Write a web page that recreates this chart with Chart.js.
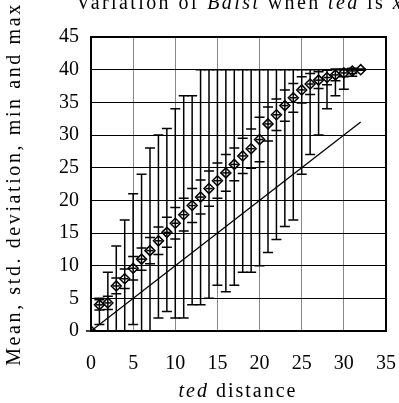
<!DOCTYPE html>
<html>
<head>
<meta charset="utf-8">
<script src="https://cdn.jsdelivr.net/npm/chart.js@4.4.0/dist/chart.umd.min.js"></script>
<style>
  html, body { margin: 0; padding: 0; background: #fff; }
  #wrap { width: 399px; height: 403px; }
</style>
</head>
<body>
<div id="wrap"><canvas id="bdistChart" width="399" height="403"></canvas></div>
<script>
// ted distance values (x)
const tedDist = [0, 1, 2, 3, 4, 5, 6, 7, 8, 9, 10, 11, 12, 13, 14, 15, 16,
                 17, 18, 19, 20, 21, 22, 23, 24, 25, 26, 27, 28, 29, 30, 31, 32];
// mean Bdist
const meanVals = [0, 4.0, 4.3, 6.9, 8.0, 9.6, 11.0, 12.3, 13.8, 15.1, 16.5, 17.8, 19.2,
                  20.5, 21.8, 23.0, 24.2, 25.5, 26.8, 27.9, 29.3, 31.7, 33.1, 34.5,
                  35.7, 36.9, 37.8, 38.4, 38.8, 39.2, 39.5, 39.8, 40.0];
// standard deviation
const stdVals = [0, 0.8, 1.0, 1.2, 1.5, 1.8, 1.7, 2.0, 2.1, 2.3, 2.4, 2.5, 2.6,
                 2.6, 2.7, 2.7, 2.8, 2.5, 2.7, 3.0, 3.4, 2.6, 2.4, 2.4,
                 2.2, 2.0, 1.6, 1.3, 1.1, 0.9, 0.6, 0.4, 0.1];
// min and max
const minVals = [0, 1, 0, 0, 0, 1, 0, 0, 2, 3, 2, 2, 4, 4, 5, 7, 6, 7, 9, 9, 10,
                 12, 14, 16, 17, 24, 27, 30, 34, 36, 37, 39, 40];
const maxVals = [0, 5, 9, 13, 17, 21, 24, 28, 30, 31, 34, 36, 36, 40, 40, 40, 40,
                 40, 40, 40, 40, 40, 40, 40, 40, 40, 40, 40, 40, 40, 40, 40, 40];
// reference line y = x
const refLineX = [0, 32];
const xTicks = [0, 5, 10, 15, 20, 25, 30, 35];
const yTicks = [0, 5, 10, 15, 20, 25, 30, 35, 40, 45];

const serif = "'Liberation Serif', 'DejaVu Serif', serif";

const meanPoints = tedDist.map((x, i) => ({ x: x, y: meanVals[i] }));

// error bars: min/max and mean +- std, drawn through the scales
const errorBars = {
    id: 'errorBars',
    beforeDatasetsDraw(chart) {
        const ctx = chart.ctx;
        const xs = chart.scales.x;
        const ys = chart.scales.y;
        const cap = 5;
        ctx.save();
        ctx.strokeStyle = '#000';
        ctx.lineWidth = 1.5;
        tedDist.forEach((x, i) => {
            const px = xs.getPixelForValue(x);
            const yMin = ys.getPixelForValue(minVals[i]);
            const yMax = ys.getPixelForValue(maxVals[i]);
            const yLo = ys.getPixelForValue(meanVals[i] - stdVals[i]);
            const yHi = ys.getPixelForValue(meanVals[i] + stdVals[i]);
            ctx.beginPath();
            ctx.moveTo(px, yMin);
            ctx.lineTo(px, yMax);
            [yMin, yMax, yLo, yHi].forEach(py => {
                ctx.moveTo(px - cap, py);
                ctx.lineTo(px + cap, py);
            });
            ctx.stroke();
        });
        ctx.restore();
    }
};

// text with italic parts, centred on cx; spacing widens the Times glyphs a bit
function drawMixed(ctx, parts, cx, cy, size, spacing) {
    ctx.letterSpacing = spacing + 'px';
    let total = 0;
    parts.forEach(p => {
        ctx.font = (p[1] ? 'italic ' : '') + size + 'px ' + serif;
        total += ctx.measureText(p[0]).width;
    });
    let x = cx - total / 2;
    parts.forEach(p => {
        ctx.font = (p[1] ? 'italic ' : '') + size + 'px ' + serif;
        ctx.fillText(p[0], x, cy);
        x += ctx.measureText(p[0]).width;
    });
    ctx.letterSpacing = '0px';
}

const textLabels = {
    id: 'textLabels',
    afterDraw(chart) {
        const ctx = chart.ctx;
        const a = chart.chartArea;
        ctx.save();
        ctx.fillStyle = '#000';
        ctx.textAlign = 'left';
        ctx.textBaseline = 'alphabetic';
        drawMixed(ctx, [['Variation of ', false], ['Bdist', true], [' when ', false],
                        ['ted', true], [' is ', false], ['x', true]], 240, 9, 20, 2.4);
        drawMixed(ctx, [['ted', true], [' distance', false]], 238, 397, 20, 2);
        // y axis title
        ctx.translate(20, (a.top + a.bottom) / 2);
        ctx.rotate(-Math.PI / 2);
        drawMixed(ctx, [['Mean, std. deviation, min and max', false]], 0, 0, 20, 2.6);
        ctx.restore();
    }
};

new Chart(document.getElementById('bdistChart'), {
    type: 'scatter',
    data: {
        datasets: [
            {
                label: 'mean',
                data: meanPoints,
                pointStyle: 'rectRot',
                pointRadius: 5,
                pointBorderWidth: 1.5,
                pointBorderColor: '#000',
                pointBackgroundColor: 'rgba(255,255,255,0)'
            },
            {
                label: 'mean cross',
                data: meanPoints,
                pointStyle: 'line',
                pointRadius: 3.5,
                pointBorderWidth: 1.5,
                pointBorderColor: '#000'
            },
            {
                label: 'y = x',
                type: 'line',
                data: refLineX.map(x => ({ x: x, y: x })),
                borderColor: '#000',
                borderWidth: 1.3,
                pointRadius: 0,
                fill: false
            }
        ]
    },
    options: {
        responsive: false,
        animation: false,
        events: [],
        layout: { padding: { left: 0, right: 13, top: 37, bottom: 0 } },
        plugins: {
            legend: { display: false },
            tooltip: { enabled: false },
            title: { display: false }
        },
        scales: {
            x: {
                type: 'linear',
                min: 0,
                max: 35,
                afterFit: function(scale) {
                    scale.height = 72;
                    scale.paddingLeft = 0;
                    scale.paddingRight = 0;
                },
                afterBuildTicks: function(scale) {
                    scale.ticks = xTicks.map(v => ({ value: v }));
                },
                border: { display: true, color: '#000', width: 2 },
                grid: { color: '#888', lineWidth: 1, drawTicks: false },
                ticks: {
                    padding: 21,
                    color: '#000',
                    font: { family: serif, size: 20 }
                }
            },
            y: {
                type: 'linear',
                min: 0,
                max: 45,
                afterFit: function(scale) {
                    scale.width = 91;
                    scale.paddingTop = 0;
                    scale.paddingBottom = 0;
                },
                afterBuildTicks: function(scale) {
                    scale.ticks = yTicks.map(v => ({ value: v }));
                },
                border: { display: true, color: '#000', width: 2 },
                grid: { color: '#000', lineWidth: 1, drawTicks: false },
                ticks: {
                    padding: 12,
                    color: '#000',
                    font: { family: serif, size: 20 }
                }
            }
        }
    },
    plugins: [errorBars, textLabels, {
        id: 'frame',
        afterDraw(chart) {
            const a = chart.chartArea;
            const ctx = chart.ctx;
            ctx.save();
            ctx.strokeStyle = '#000';
            ctx.lineWidth = 2;
            ctx.strokeRect(a.left, a.top, a.right - a.left, a.bottom - a.top);
            ctx.restore();
        }
    }]
});
</script>
</body>
</html>
